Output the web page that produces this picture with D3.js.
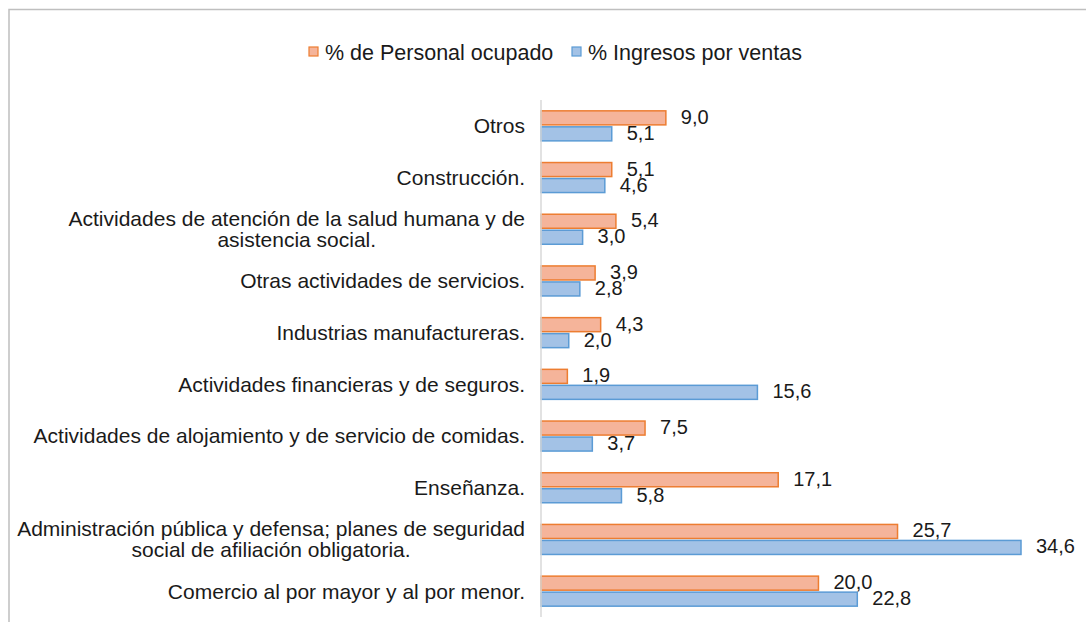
<!DOCTYPE html>
<html>
<head>
<meta charset="utf-8">
<script src="https://cdn.jsdelivr.net/npm/d3@7"></script>
<style>
  body { margin: 0; background: #fff; }
  svg { display: block; }
  .cat { font-family: "Liberation Sans", Arial, sans-serif; font-size: 21px; fill: #1a1a1a; }
  .val { font-family: "Liberation Sans", Arial, sans-serif; font-size: 20px; fill: #1a1a1a; }
  .leg { font-family: "Liberation Sans", Arial, sans-serif; font-size: 21.5px; fill: #1a1a1a; }
</style>
</head>
<body>
<div id="chart"></div>
<script>
// ---------------- DATA ----------------
const categories = [
  ["Otros"],
  ["Construcción."],
  ["Actividades de atención de la salud humana y de", "asistencia social."],
  ["Otras actividades de servicios."],
  ["Industrias manufactureras."],
  ["Actividades financieras y de seguros."],
  ["Actividades de alojamiento y de servicio de comidas."],
  ["Enseñanza."],
  ["Administración pública y defensa; planes de seguridad", "social de afiliación obligatoria."],
  ["Comercio al por mayor y al por menor."]
];
const personal = [9.0, 5.1, 5.4, 3.9, 4.3, 1.9, 7.5, 17.1, 25.7, 20.0];
const ingresos = [5.1, 4.6, 3.0, 2.8, 2.0, 15.6, 3.7, 5.8, 34.6, 22.8];
const seriesNames = ["% de Personal ocupado", "% Ingresos por ventas"];

const fills = ["#F5B49A", "#A3C2E6"];
const strokes = ["#ED7D31", "#5B9BD5"];

// ---------------- SVG ----------------
const width = 1086, height = 622;
const svg = d3.select("#chart").append("svg")
  .attr("width", width).attr("height", height);

// chart frame
svg.append("path")
  .attr("d", "M9,622 V9.5 H1086")
  .attr("fill", "none")
  .attr("stroke", "#bfbfbf")
  .attr("stroke-width", 1.5);

const x0 = 541;
const xScale = d3.scaleLinear().domain([0, 34.6]).range([x0, 1021]);
const idx = d3.range(categories.length);
const yScale = d3.scaleBand().domain(idx).range([100, 617]).paddingInner(0.4).paddingOuter(0.2);
const ySub = d3.scaleBand().domain([0, 1]).range([0, yScale.bandwidth()]).paddingInner(0.06);

// bars
const data = idx.map(i => ({ i, vals: [personal[i], ingresos[i]] }));
const groups = svg.selectAll(".grp").data(data).enter().append("g")
  .attr("transform", d => "translate(0," + yScale(d.i) + ")");

groups.selectAll("rect").data(d => d.vals.map((v, s) => ({ v, s }))).enter().append("rect")
  .attr("x", x0)
  .attr("y", d => ySub(d.s) + 0.5)
  .attr("width", d => xScale(d.v) - x0)
  .attr("height", ySub.bandwidth() - 1)
  .attr("fill", d => fills[d.s])
  .attr("stroke", d => strokes[d.s])
  .attr("stroke-width", 1.5);

groups.selectAll(".val").data(d => d.vals.map((v, s) => ({ v, s }))).enter().append("text")
  .attr("class", "val")
  .attr("x", d => xScale(d.v) + 15)
  .attr("y", d => ySub(d.s) + ySub.bandwidth() / 2 - 1)
  .attr("dy", "0.35em")
  .text(d => d.v.toFixed(1).replace(".", ","));

// axis line
svg.append("line")
  .attr("x1", x0).attr("x2", x0)
  .attr("y1", 100).attr("y2", 617)
  .attr("stroke", "#d9d9d9").attr("stroke-width", 1.5);

// category labels (wrapped lines centred on the widest one)
const labelRight = 525;
idx.forEach(i => {
  const lines = categories[i];
  const cy = yScale(i) + yScale.bandwidth() / 2;
  const g = svg.append("g");
  const texts = lines.map((t, k) => g.append("text").attr("class", "cat")
    .attr("dy", "0.35em")
    .attr("y", cy + (k - (lines.length - 1) / 2) * 21)
    .text(t));
  const maxW = d3.max(texts, t => t.node().getComputedTextLength());
  texts.forEach(t => t.attr("x", labelRight - maxW / 2).attr("text-anchor", "middle"));
});

// legend
const legX = [309, 572];
seriesNames.forEach((n, s) => {
  svg.append("rect")
    .attr("x", legX[s]).attr("y", 47).attr("width", 9).attr("height", 9)
    .attr("fill", fills[s]).attr("stroke", strokes[s]).attr("stroke-width", 1.2);
  svg.append("text").attr("class", "leg")
    .attr("x", legX[s] + 16).attr("y", 52).attr("dy", "0.35em")
    .text(n);
});
</script>
</body>
</html>
